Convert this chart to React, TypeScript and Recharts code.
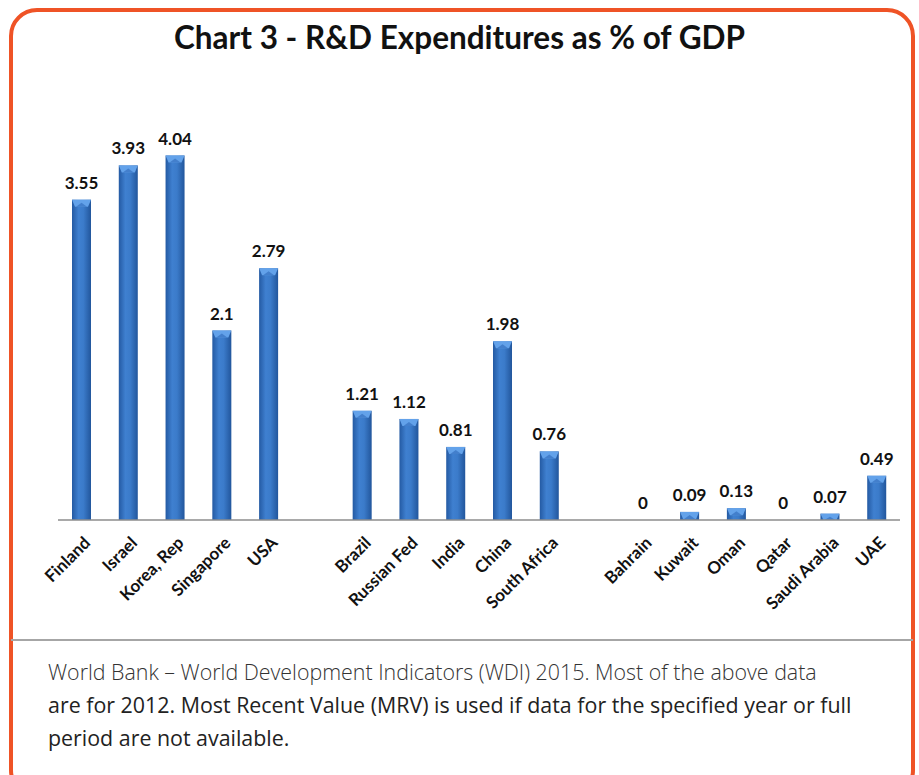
import { BarChart, Bar, XAxis, YAxis, LabelList } from "recharts";

// countries in chart order, "" marks the gap between groups
const countries = [
  "Finland", "Israel", "Korea, Rep", "Singapore", "USA",
  "",
  "Brazil", "Russian Fed", "India", "China", "South Africa",
  "",
  "Bahrain", "Kuwait", "Oman", "Qatar", "Saudi Arabia", "UAE",
];

const rdShare = [
  3.55, 3.93, 4.04, 2.1, 2.79,
  null,
  1.21, 1.12, 0.81, 1.98, 0.76,
  null,
  0, 0.09, 0.13, 0, 0.07, 0.49,
];

const rows = countries.map((name, i) => ({ name, value: rdShare[i] }));

const BORDER = "#EF5326";
const LABEL_FONT = "Lato, 'Open Sans', sans-serif";

function BevelBar(props: any) {
  const { x, y, width, height } = props;
  if (!height || height <= 0) return null;
  const cap = Math.min(7, height);
  return (
    <g>
      <rect x={x} y={y} width={width} height={height} fill="url(#barGrad)" />
      <polygon
        points={`${x},${y} ${x + width},${y} ${x + width - 3},${y + cap} ${x + 3},${y + cap}`}
        fill="#63A2EA"
      />
      <polygon
        points={`${x + 4},${y + cap} ${x + width / 2},${y + 3} ${x + width - 4},${y + cap}`}
        fill="#3B77C4"
        opacity={0.8}
      />
    </g>
  );
}

function CountryTick(props: any) {
  const { x, y, payload } = props;
  if (!payload.value) return null;
  const ax = x + 10;
  const ay = y + 16;
  return (
    <text
      x={ax}
      y={ay}
      textAnchor="end"
      transform={`rotate(-45, ${ax}, ${ay})`}
      fontFamily={LABEL_FONT}
      fontWeight={700}
      fontSize={17}
      fill="#111"
    >
      {payload.value}
    </text>
  );
}

function ValueLabel(props: any) {
  const { x, y, width, value } = props;
  if (value === null || value === undefined) return null;
  return (
    <text
      x={x + width / 2}
      y={y - 11}
      textAnchor="middle"
      fontFamily={LABEL_FONT}
      fontWeight={700}
      fontSize={17}
      fill="#111"
    >
      {value}
    </text>
  );
}

export default function App() {
  return (
    <div
      style={{
        position: "fixed",
        left: 0,
        top: 0,
        width: 919,
        height: 775,
        overflow: "hidden",
        background: "#fff",
      }}
    >
      <div
        style={{
          position: "absolute",
          left: 9,
          top: 8,
          width: 906,
          height: 790,
          boxSizing: "border-box",
          border: `4px solid ${BORDER}`,
          borderRadius: 28,
        }}
      />
      <div
        style={{
          position: "absolute",
          left: 0,
          top: 18,
          width: 919,
          textAlign: "center",
          fontFamily: LABEL_FONT,
          fontWeight: 700,
          fontSize: 31.5,
          color: "#111",
        }}
      >
        Chart 3 - R&amp;D Expenditures as % of GDP
      </div>

      <div style={{ position: "absolute", left: 0, top: 0 }}>
        <BarChart
          width={919}
          height={640}
          data={rows}
          margin={{ top: 114, right: 19, bottom: 20, left: 58 }}
          barCategoryGap={0}
        >
          <defs>
            <linearGradient id="barGrad" x1="0" y1="0" x2="1" y2="0">
              <stop offset="0%" stopColor="#245AA3" />
              <stop offset="35%" stopColor="#3F80D0" />
              <stop offset="60%" stopColor="#3B7BCA" />
              <stop offset="100%" stopColor="#22569C" />
            </linearGradient>
          </defs>
          <XAxis
            dataKey="name"
            interval={0}
            height={100}
            tickLine={false}
            axisLine={{ stroke: "#8C8C8C", strokeWidth: 1.5 }}
            tick={<CountryTick />}
          />
          <YAxis hide domain={[0, 4.5]} />
          <Bar dataKey="value" barSize={19} shape={<BevelBar />} isAnimationActive={false}>
            <LabelList dataKey="value" content={<ValueLabel />} />
          </Bar>
        </BarChart>
      </div>

      <div
        style={{
          position: "absolute",
          left: 11,
          top: 639,
          width: 902,
          height: 2,
          background: "#A6A6A6",
        }}
      />
      <div
        style={{
          position: "absolute",
          left: 48,
          top: 655,
          width: 860,
          fontFamily: "'Open Sans', sans-serif",
          fontSize: 21.4,
          lineHeight: "33px",
          color: "#222",
          whiteSpace: "nowrap",
        }}
      >
        <div style={{ fontWeight: 300, color: "#333" }}>
          World Bank – World Development Indicators (WDI) 2015. Most of the above data
        </div>
        <div>are for 2012. Most Recent Value (MRV) is used if data for the specified year or full</div>
        <div>period are not available.</div>
      </div>
    </div>
  );
}
